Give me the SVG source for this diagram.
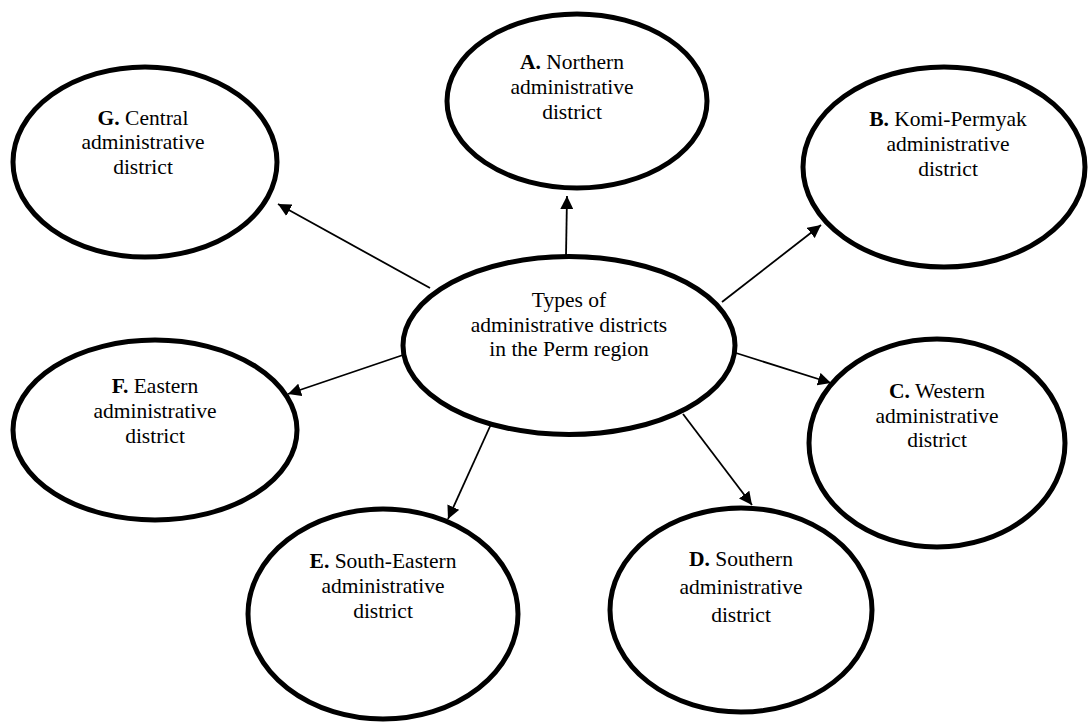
<svg xmlns="http://www.w3.org/2000/svg" width="1088" height="722" viewBox="0 0 1088 722">
<style>
.n{fill:#fff;stroke:#000;stroke-width:5}
.t{font-family:'Liberation Serif','DejaVu Serif',serif;font-size:21.5px;fill:#000;text-anchor:middle}
.b{font-weight:bold}
.c{stroke:#000;stroke-width:1.8;fill:none;marker-end:url(#ah)}
</style>
<defs>
<marker id="ah" viewBox="0 0 10 10" refX="10" refY="5" markerWidth="13" markerHeight="13" markerUnits="userSpaceOnUse" orient="auto">
<path d="M0,0 L10,5 L0,10 z" fill="#000"/>
</marker>
</defs>
<rect width="1088" height="722" fill="#fff"/>
<g id="connectors">
<line class="c" x1="566" y1="256" x2="567" y2="196"/>
<line class="c" x1="430" y1="288" x2="278" y2="204"/>
<line class="c" x1="722" y1="302" x2="821" y2="225"/>
<line class="c" x1="403" y1="355" x2="288" y2="394"/>
<line class="c" x1="736" y1="353" x2="831" y2="383"/>
<line class="c" x1="492" y1="422" x2="448" y2="519"/>
<line class="c" x1="683" y1="414" x2="752" y2="505"/>
</g>
<g id="center">
<ellipse class="n" cx="569" cy="345.5" rx="166" ry="89"/>
<text class="t" font-family="Liberation Serif" x="569" y="307">Types of</text>
<text class="t" font-family="Liberation Serif" x="569" y="332">administrative districts</text>
<text class="t" font-family="Liberation Serif" x="569" y="356">in the Perm region</text>
</g>
<g id="nodeA">
<ellipse class="n" cx="577" cy="101" rx="130" ry="87"/>
<text class="t" x="572" y="69"><tspan class="b">A.</tspan> Northern</text>
<text class="t" x="572" y="94">administrative</text>
<text class="t" x="572" y="119">district</text>
</g>
<g id="nodeB">
<ellipse class="n" cx="944" cy="167" rx="141" ry="100"/>
<text class="t" x="948" y="126"><tspan class="b">B.</tspan> Komi-Permyak</text>
<text class="t" x="948" y="151">administrative</text>
<text class="t" x="948" y="176">district</text>
</g>
<g id="nodeC">
<ellipse class="n" cx="937" cy="443" rx="128" ry="104"/>
<text class="t" x="937" y="398"><tspan class="b">C.</tspan> Western</text>
<text class="t" x="937" y="423">administrative</text>
<text class="t" x="937" y="447">district</text>
</g>
<g id="nodeD">
<ellipse class="n" cx="741" cy="610" rx="131" ry="102"/>
<text class="t" x="741" y="566"><tspan class="b">D.</tspan> Southern</text>
<text class="t" x="741" y="594">administrative</text>
<text class="t" x="741" y="622">district</text>
</g>
<g id="nodeE">
<ellipse class="n" cx="383" cy="614" rx="135" ry="105"/>
<text class="t" x="383" y="568"><tspan class="b">E.</tspan> South-Eastern</text>
<text class="t" x="383" y="593">administrative</text>
<text class="t" x="383" y="618">district</text>
</g>
<g id="nodeF">
<ellipse class="n" cx="155" cy="430" rx="142" ry="90"/>
<text class="t" x="155" y="393"><tspan class="b">F.</tspan> Eastern</text>
<text class="t" x="155" y="418">administrative</text>
<text class="t" x="155" y="443">district</text>
</g>
<g id="nodeG">
<ellipse class="n" cx="145" cy="162" rx="132" ry="95"/>
<text class="t" x="143" y="125"><tspan class="b">G.</tspan> Central</text>
<text class="t" x="143" y="149">administrative</text>
<text class="t" x="143" y="174">district</text>
</g>
</svg>
